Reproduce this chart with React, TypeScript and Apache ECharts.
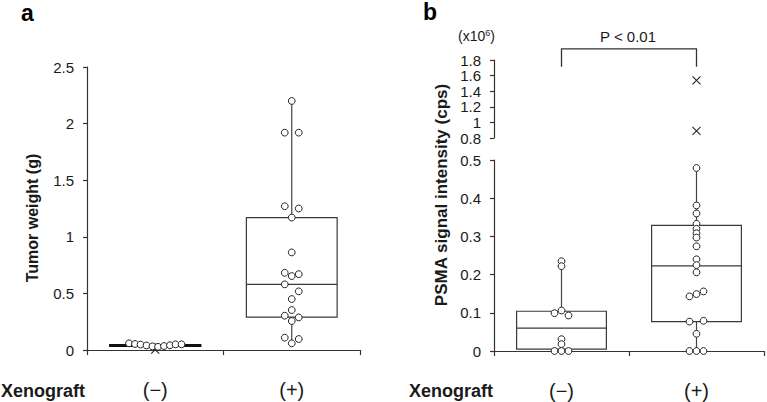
import React, { useEffect, useRef } from 'react';
import * as echarts from 'echarts';

// ---------- data ----------
const categories = ['(−)', '(+)'];

// Panel a: tumor weight (g)
const weightNeg = [0.059, 0.053, 0.048, 0.04, 0.032, 0.028, 0.035, 0.042, 0.05, 0.05];
const weightNegSlots = [-3.75, -2.9, -2.1, -1.25, -0.4, 0.4, 1.25, 2.1, 2.9, 3.75];
const weightPos = [2.2, 1.92, 1.92, 1.27, 1.25, 1.17, 0.862, 0.682, 0.653, 0.67, 0.58, 0.518, 0.45, 0.353, 0.303, 0.288, 0.256, 0.109, 0.097, 0.059];
const weightPosSlots = [0, -1, 1, -1, 1, 0, 0, -1, 0, 1, -1, 1, 0, 0, -1, 1, 0, -1, 1, 0];
// [min, q1, median, q3, max]
const weightBoxNeg = [0.028, 0.034, 0.041, 0.047, 0.059];
const weightBoxPos = [0.059, 0.29, 0.58, 1.17, 2.2];
const weightCrosses = [[0, 0.004]];

// Panel b: PSMA signal intensity (x10^6 cps)
const psmaNeg = [0.235, 0.222, 0.099, 0.106, 0.093, 0.031, 0.018, 0, 0, 0];
const psmaNegSlots = [0, 0, -1, 0, 1, 0, 0, -1, 0, 1];
const psmaPos = [0.479, 0.381, 0.36, 0.333, 0.32, 0.308, 0.297, 0.274, 0.24, 0.225, 0.206, 0.143, 0.149, 0.156, 0.077, 0.079, 0.045, 0, 0, 0];
const psmaPosSlots = [0, 0, 0, 0, 0, 0, 0, 0, 0, 0, 0, -1, 0, 1, -1, 1, 0, -1, 0, 1];
const psmaBoxNeg = [0, 0.005, 0.06, 0.104, 0.235];
const psmaBoxPos = [0, 0.077, 0.223, 0.329, 0.479];
const psmaCrosses = [[1, 1.54], [1, 0.89]];
// bracket: [top value, leg bottom value] on the upper axis
const bracketLevels = [1.942, 1.714];

const weightTicks = { min: 0, max: 2.5, interval: 0.5 };
const psmaLowTicks = { min: 0, max: 0.5, interval: 0.1 };
const psmaHighTicks = { min: 0.8, max: 1.8, interval: 0.2 };

// ---------- style ----------
const FONT = '"Liberation Sans", Arial, Helvetica, sans-serif';
const SLOT_PX = 7;
const BOX_RATIO = 0.665;
const AXIS_COLOR = '#333';
const TEXT_COLOR = '#1a1a1a';

function pointsData(cat: number, vals: number[], slots: number[]) {
  return vals.map((v, i) => [cat, v, slots[i]]);
}

function pointSeries(x: number, y: number, data: number[][]) {
  return {
    type: 'custom',
    xAxisIndex: x,
    yAxisIndex: y,
    z: 5,
    clip: false,
    data,
    renderItem: (_p: any, api: any) => {
      const pt = api.coord([api.value(0), api.value(1)]);
      return {
        type: 'circle',
        shape: { cx: pt[0] + api.value(2) * SLOT_PX, cy: pt[1], r: 3.4 },
        style: { fill: '#fff', stroke: '#222', lineWidth: 1 },
      };
    },
  };
}

function boxSeries(x: number, y: number, data: number[][], thick = false) {
  return {
    type: 'custom',
    xAxisIndex: x,
    yAxisIndex: y,
    z: 3,
    clip: false,
    encode: { x: 0, y: [1, 2, 3, 4, 5] },
    data,
    renderItem: (_p: any, api: any) => {
      const c = api.value(0);
      const pMin = api.coord([c, api.value(1)]);
      const pQ1 = api.coord([c, api.value(2)]);
      const pMed = api.coord([c, api.value(3)]);
      const pQ3 = api.coord([c, api.value(4)]);
      const pMax = api.coord([c, api.value(5)]);
      const hw = (api.size([1, 0])[0] * BOX_RATIO) / 2;
      const cx = pMed[0];
      const ls = { stroke: thick ? '#111' : '#3a3a3a', lineWidth: thick ? 1.6 : 1.2 };
      return {
        type: 'group',
        children: [
          { type: 'line', shape: { x1: cx, y1: pMin[1], x2: cx, y2: pQ1[1] }, style: { stroke: '#444', lineWidth: 1.2 } },
          { type: 'line', shape: { x1: cx, y1: pQ3[1], x2: cx, y2: pMax[1] }, style: { stroke: '#444', lineWidth: 1.2 } },
          {
            type: 'rect',
            shape: { x: cx - hw, y: pQ3[1], width: hw * 2, height: pQ1[1] - pQ3[1] },
            style: { fill: thick ? '#111' : 'none', ...ls },
          },
          { type: 'line', shape: { x1: cx - hw, y1: pMed[1], x2: cx + hw, y2: pMed[1] }, style: ls },
        ],
      };
    },
  };
}

function crossSeries(x: number, y: number, data: number[][]) {
  return {
    type: 'custom',
    xAxisIndex: x,
    yAxisIndex: y,
    z: 4,
    clip: false,
    data,
    renderItem: (_p: any, api: any) => {
      const pt = api.coord([api.value(0), api.value(1)]);
      const s = 4;
      const st = { stroke: '#222', lineWidth: 1.1 };
      return {
        type: 'group',
        children: [
          { type: 'line', shape: { x1: pt[0] - s, y1: pt[1] - s, x2: pt[0] + s, y2: pt[1] + s }, style: st },
          { type: 'line', shape: { x1: pt[0] - s, y1: pt[1] + s, x2: pt[0] + s, y2: pt[1] - s }, style: st },
        ],
      };
    },
  };
}

function bracketSeries(x: number, y: number) {
  return {
    type: 'custom',
    xAxisIndex: x,
    yAxisIndex: y,
    z: 4,
    clip: false,
    data: [[0, bracketLevels[0], bracketLevels[1]]],
    renderItem: (_p: any, api: any) => {
      const a0 = api.coord([0, api.value(2)]);
      const a1 = api.coord([0, api.value(1)]);
      const b1 = api.coord([1, api.value(1)]);
      const b0 = api.coord([1, api.value(2)]);
      return {
        type: 'polyline',
        shape: { points: [a0, a1, b1, b0] },
        style: { stroke: '#333', lineWidth: 1.3, fill: 'none' },
      };
    },
  };
}

function catAxis(gridIndex: number, show = true) {
  return {
    type: 'category',
    gridIndex,
    data: categories,
    show,
    boundaryGap: true,
    axisLine: { show: true, lineStyle: { color: AXIS_COLOR, width: 1.2 } },
    axisTick: { show: true, length: 5, interval: 0, lineStyle: { color: AXIS_COLOR, width: 1.2 } },
    axisLabel: { margin: 30, fontSize: 20, color: TEXT_COLOR, fontFamily: FONT },
    splitLine: { show: false },
  };
}

function valAxis(gridIndex: number, t: { min: number; max: number; interval: number }) {
  return {
    type: 'value',
    gridIndex,
    min: t.min,
    max: t.max,
    interval: t.interval,
    axisLine: { show: true, lineStyle: { color: AXIS_COLOR, width: 1.2 } },
    axisTick: { show: true, length: 4, lineStyle: { color: AXIS_COLOR, width: 1.2 } },
    axisLabel: { margin: 13, fontSize: 15, color: TEXT_COLOR, fontFamily: FONT },
    splitLine: { show: false },
  };
}

export default function App() {
  const ref = useRef<HTMLDivElement>(null);

  useEffect(() => {
    document.body.style.margin = '0';
    if (!ref.current) return;
    const chart = echarts.init(ref.current, undefined, { renderer: 'svg' });

    const option = {
      animation: false,
      backgroundColor: '#fff',
      grid: [
        { left: 87, top: 67, width: 273, height: 283 },
        { left: 494, top: 160, width: 270, height: 191 },
        { left: 494, top: 60, width: 270, height: 78 },
      ],
      xAxis: [catAxis(0), catAxis(1), catAxis(2, false)],
      yAxis: [valAxis(0, weightTicks), valAxis(1, psmaLowTicks), valAxis(2, psmaHighTicks)],
      series: [
        boxSeries(0, 0, [[0, ...weightBoxNeg]], true),
        boxSeries(0, 0, [[1, ...weightBoxPos]]),
        crossSeries(0, 0, weightCrosses),
        pointSeries(0, 0, pointsData(0, weightNeg, weightNegSlots)),
        pointSeries(0, 0, pointsData(1, weightPos, weightPosSlots)),
        boxSeries(1, 1, [[0, ...psmaBoxNeg], [1, ...psmaBoxPos]]),
        pointSeries(1, 1, pointsData(0, psmaNeg, psmaNegSlots)),
        pointSeries(1, 1, pointsData(1, psmaPos, psmaPosSlots)),
        crossSeries(2, 2, psmaCrosses),
        bracketSeries(2, 2),
      ],
      graphic: [
        { type: 'text', x: 21, y: 1, style: { text: 'a', font: `bold 23px ${FONT}`, fill: '#000' } },
        { type: 'text', x: 423, y: 0, style: { text: 'b', font: `bold 23px ${FONT}`, fill: '#000' } },
        {
          type: 'text', x: 32, y: 218, rotation: Math.PI / 2,
          style: { text: 'Tumor weight (g)', font: `bold 16px ${FONT}`, fill: TEXT_COLOR, textAlign: 'center', textVerticalAlign: 'middle' },
        },
        {
          type: 'text', x: 441, y: 195, rotation: Math.PI / 2,
          style: { text: 'PSMA signal intensity (cps)', font: `bold 17px ${FONT}`, fill: TEXT_COLOR, textAlign: 'center', textVerticalAlign: 'middle' },
        },
        { type: 'text', x: 1, y: 391, style: { text: 'Xenograft', font: `bold 18px ${FONT}`, fill: TEXT_COLOR, textVerticalAlign: 'middle' } },
        { type: 'text', x: 409, y: 391, style: { text: 'Xenograft', font: `bold 18px ${FONT}`, fill: TEXT_COLOR, textVerticalAlign: 'middle' } },
        {
          type: 'text', x: 458, y: 36,
          style: {
            text: '(x10{sup|6})',
            font: `14px ${FONT}`,
            fill: TEXT_COLOR,
            textVerticalAlign: 'middle',
            rich: { sup: { fontSize: 9, fontFamily: FONT, verticalAlign: 'top', padding: [0, 0, 6, 0], fill: TEXT_COLOR } },
          },
        },
        { type: 'text', x: 628, y: 36, style: { text: 'P < 0.01', font: `15px ${FONT}`, fill: TEXT_COLOR, textAlign: 'center', textVerticalAlign: 'middle' } },
      ],
    };

    chart.setOption(option as any);
    return () => chart.dispose();
  }, []);

  return <div ref={ref} style={{ width: 767, height: 402 }} />;
}
